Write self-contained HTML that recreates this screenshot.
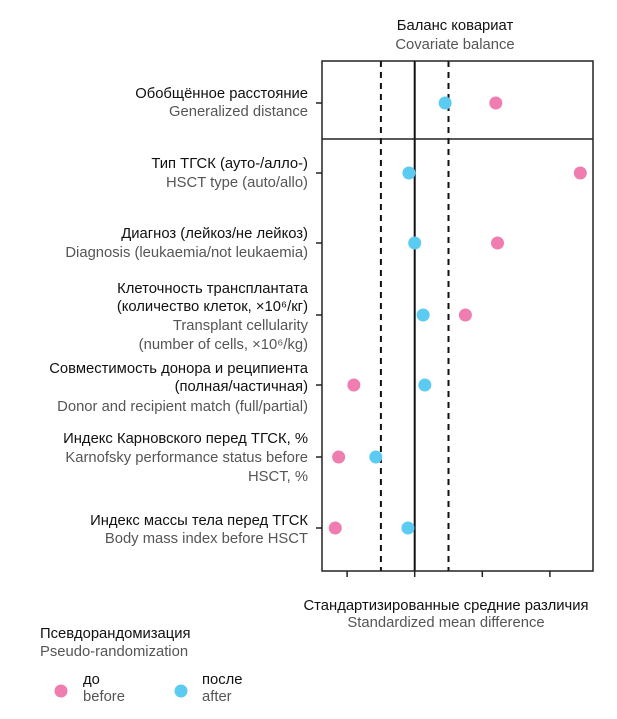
<!DOCTYPE html>
<html><head><meta charset="utf-8"><style>
body{margin:0;background:#fff}
svg{display:block;font-family:"Liberation Sans","Noto Sans CJK SC",sans-serif}
.k{fill:#111;font-size:14.8px}
.g{fill:#555;font-size:14.8px}
</style></head><body>
<svg id="chart" width="617" height="719" viewBox="0 0 617 719">
<text class="k" x="455" y="30" text-anchor="middle">Баланс ковариат</text>
<text class="g" x="455" y="49" text-anchor="middle">Covariate balance</text>
<g id="labels">
<text class="k" x="308" y="98" text-anchor="end">Обобщённое расстояние</text>
<text class="g" x="308" y="116" text-anchor="end">Generalized distance</text>
<text class="k" x="308" y="168" text-anchor="end">Тип ТГСК (ауто-/алло-)</text>
<text class="g" x="308" y="187" text-anchor="end">HSCT type (auto/allo)</text>
<text class="k" x="308" y="238" text-anchor="end">Диагноз (лейкоз/не лейкоз)</text>
<text class="g" x="308" y="257" text-anchor="end">Diagnosis (leukaemia/not leukaemia)</text>
<text class="k" x="308" y="293" text-anchor="end">Клеточность трансплантата</text>
<text class="k" x="308" y="311" text-anchor="end">(количество клеток, ×10⁶/кг)</text>
<text class="g" x="308" y="330" text-anchor="end">Transplant cellularity</text>
<text class="g" x="308" y="349" text-anchor="end">(number of cells, ×10⁶/kg)</text>
<text class="k" x="308" y="373" text-anchor="end">Совместимость донора и реципиента</text>
<text class="k" x="308" y="391" text-anchor="end">(полная/частичная)</text>
<text class="g" x="308" y="411" text-anchor="end">Donor and recipient match (full/partial)</text>
<text class="k" x="308" y="443" text-anchor="end">Индекс Карновского перед ТГСК, %</text>
<text class="g" x="308" y="462" text-anchor="end">Karnofsky performance status before</text>
<text class="g" x="308" y="481" text-anchor="end">HSCT, %</text>
<text class="k" x="308" y="525" text-anchor="end">Индекс массы тела перед ТГСК</text>
<text class="g" x="308" y="543" text-anchor="end">Body mass index before HSCT</text>
</g>
<g id="plot"></g>
<text class="k" x="446" y="610" text-anchor="middle">Стандартизированные средние различия</text>
<text class="g" x="446" y="627" text-anchor="middle">Standardized mean difference</text>
<g>
<text class="k" x="40" y="638">Псевдорандомизация</text>
<text class="g" x="40" y="656">Pseudo-randomization</text>
<circle cx="61" cy="691" r="6.5" fill="#ef7db0"/>
<text class="k" x="83" y="684">до</text>
<text class="g" x="83" y="701">before</text>
<circle cx="181" cy="691" r="6.5" fill="#5ccbf2"/>
<text class="k" x="202" y="684">после</text>
<text class="g" x="202" y="701">after</text>
</g>
</svg>
<script>
const categories=["generalized-distance","hsct-type","diagnosis","cellularity","donor-match","karnofsky","bmi"];
const beforeValues=[0.24,0.49,0.245,0.15,-0.18,-0.225,-0.235];
const afterValues=[0.09,-0.017,0.0,0.025,0.03,-0.115,-0.02];
const xTicks=[-0.2,0,0.2,0.4];
const thresholds=[-0.1,0.1];
const rowY=[103,173,243,315,385,457,528];
const NS="http://www.w3.org/2000/svg";
const x=v=>414.7+338*v;
const g=document.getElementById('plot');
function mk(t,a){const e=document.createElementNS(NS,t);for(const k in a)e.setAttribute(k,a[k]);g.appendChild(e);return e;}
const L=322,R=593,T=61,B=571;
thresholds.forEach(v=>{const e=mk('line',{x1:x(v),x2:x(v),y1:T,y2:B,stroke:'#111','stroke-width':2,'stroke-dasharray':'6,5'});

});
const z=mk('line',{x1:x(0),x2:x(0),y1:T,y2:B,stroke:'#111','stroke-width':2});


const f=mk('rect',{x:L,y:T,width:R-L,height:B-T,fill:'none',stroke:'#222','stroke-width':1.5});


const d=mk('line',{x1:L,x2:R,y1:139,y2:139,stroke:'#222','stroke-width':1.5});


xTicks.forEach(v=>{const e=mk('line',{x1:x(v),x2:x(v),y1:B,y2:B+6,stroke:'#222','stroke-width':1.5});

});
categories.forEach((c,i)=>{
const t=mk('line',{x1:316,x2:L,y1:rowY[i],y2:rowY[i],stroke:'#222','stroke-width':1.5});


const b=mk('circle',{cx:x(beforeValues[i]),cy:rowY[i],r:6.5,fill:'#ef7db0'});


const a=mk('circle',{cx:x(afterValues[i]),cy:rowY[i],r:6.5,fill:'#5ccbf2'});


});
</script>
</body></html>
